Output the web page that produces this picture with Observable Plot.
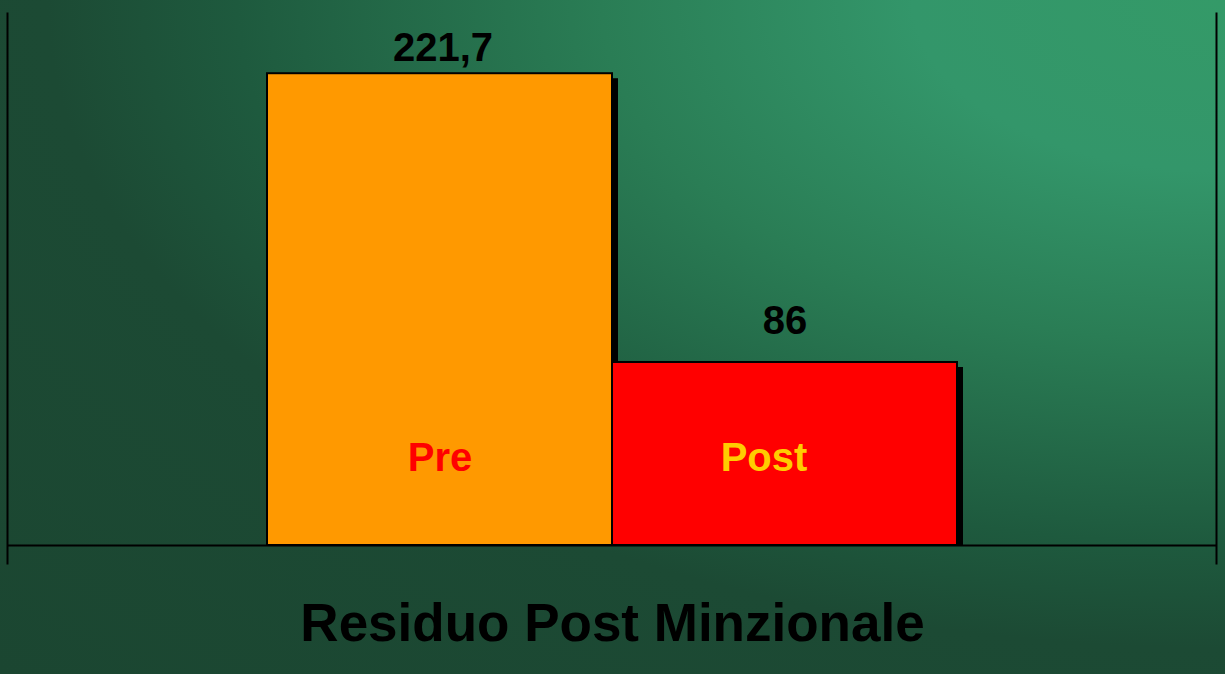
<!DOCTYPE html>
<html>
<head>
<meta charset="utf-8">
<script src="https://cdn.jsdelivr.net/npm/d3@7"></script>
<script src="https://cdn.jsdelivr.net/npm/@observablehq/plot@0.6"></script>
<style>
  html, body { margin: 0; padding: 0; }
  #stage {
    position: relative;
    width: 1225px;
    height: 674px;
    overflow: hidden;
    background: radial-gradient(ellipse farthest-corner at 100% 0%,
      #349a68 0%, #33966a 18%, #2a7d55 36%, #1e5a3e 57%, #1c4a34 68%, #1b4631 100%);
    font-family: "Liberation Sans", Arial, sans-serif;
  }
  #title {
    position: absolute;
    left: 0;
    top: 596px;
    width: 1225px;
    text-align: center;
    font-size: 53px;
    line-height: 53px;
    font-weight: bold;
    color: #000;
  }
</style>
</head>
<body>
<div id="stage"><div id="chart"></div><div id="title"></div></div>
<script>
// ---- data ----
const categories = ["Pre", "Post"];
const values = [221.7, 86];
const axisTitle = "Residuo Post Minzionale";

// ---- styling (kept apart from data) ----
const barColors = ["#ff9900", "#ff0000"];
const nameColors = {Pre: "#ff0000", Post: "#ffcc00"};
const layout = {
  Pre:  {valueDx: 3, valueDy: -13, nameDx: 0},
  Post: {valueDx: 0, valueDy: -28, nameDx: -21}
};

const data = categories.map((c, i) => ({
  category: c,
  value: values[i],
  label: String(values[i]).replace(".", ",")
}));

const textMarks = categories.flatMap(c => {
  const sub = data.filter(d => d.category === c);
  return [
    Plot.text(sub, {
      x: "category", y: "value", text: "label",
      lineAnchor: "bottom", dx: layout[c].valueDx, dy: layout[c].valueDy,
      fontSize: 40, fontWeight: "bold", fill: "#000"
    }),
    Plot.text(sub, {
      x: "category", y: () => 0, text: "category",
      lineAnchor: "bottom", dx: layout[c].nameDx, dy: -75,
      fontSize: 40, fontWeight: "bold", fill: nameColors[c]
    })
  ];
});

const chart = Plot.plot({
  width: 1225,
  height: 575,
  marginTop: 13,
  marginBottom: 12,
  marginLeft: 7,
  marginRight: 9,
  style: {background: "transparent", fontFamily: "Liberation Sans, Arial, sans-serif", overflow: "visible"},
  x: {domain: categories, paddingInner: 0, paddingOuter: 0.75, axis: null},
  y: {domain: [0, 250], range: [545, 13], axis: null},
  color: {domain: categories, range: barColors},
  marks: [
    Plot.barY(data, {x: "category", y: "value", fill: "#000", dx: 6, insetTop: 5}),
    Plot.barY(data, {x: "category", y: "value", fill: "category", stroke: "#000", strokeWidth: 2}),
    Plot.ruleY([0], {stroke: "#000", strokeWidth: 2}),
    Plot.frame({anchor: "left", stroke: "#000", strokeWidth: 2}),
    Plot.frame({anchor: "right", stroke: "#000", strokeWidth: 2}),
    ...textMarks
  ]
});
document.getElementById("chart").appendChild(chart);
document.getElementById("title").textContent = axisTitle;
</script>
</body>
</html>
